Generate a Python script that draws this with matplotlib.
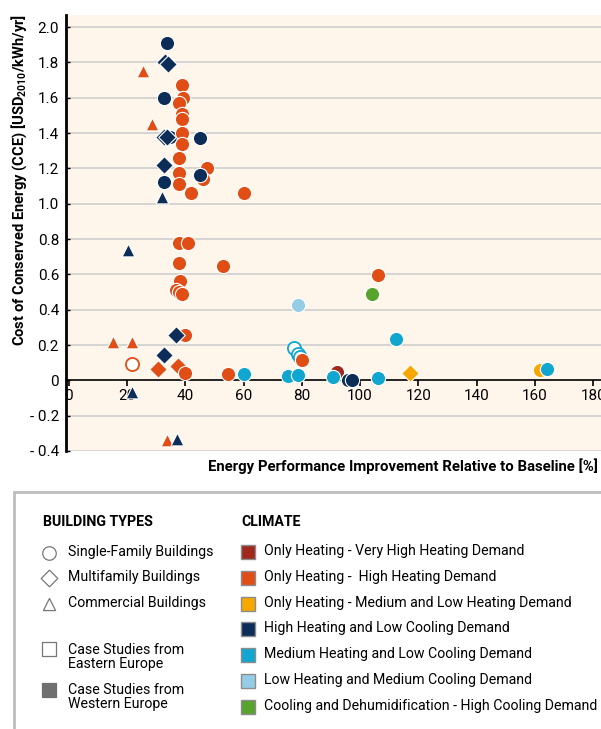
import matplotlib
matplotlib.use('Agg')
import matplotlib.pyplot as plt
from matplotlib.patches import Rectangle

# Fonts: Roboto for all labels, DejaVu as fallback
plt.rcParams['font.family'] = ['Roboto', 'DejaVu Sans']
plt.rcParams['mathtext.fontset'] = 'custom'
plt.rcParams['mathtext.rm'] = 'Roboto'
plt.rcParams['mathtext.bf'] = 'Roboto:bold'

# Climate zones and their colours
climate_names = [
    'Only Heating - Very High Heating Demand',
    'Only Heating -  High Heating Demand',
    'Only Heating - Medium and Low Heating Demand',
    'High Heating and Low Cooling Demand',
    'Medium Heating and Low Cooling Demand',
    'Low Heating and Medium Cooling Demand',
    'Cooling and Dehumidification - High Cooling Demand',
]
climate_colors = ['#a0281c', '#e04e16', '#f6a800', '#0c2d57', '#10a6cf', '#95cde6', '#58a32b']

building_names = ['Single-Family Buildings', 'Multifamily Buildings', 'Commercial Buildings']
building_markers = ['o', 'D', '^']

# Case studies: improvement [%], CCE [USD2010/kWh/yr], building type, climate index, eastern europe
improvement = [
    # high heating / low cooling
    33.6, 33.0, 34.2, 32.8, 34.8, 32.8, 45.1,
    # only heating - high heating demand (upper cluster)
    39.0, 39.3, 37.9, 39.0, 39.0, 38.8, 39.0, 37.9, 47.4, 46.0, 37.9, 37.9, 42.0, 60.3,
    25.6, 28.7,
    33.6, 32.8, 45.1, 32.8, 31.9,
    # middle cluster
    20.5, 37.9, 41.0, 37.9, 52.8, 38.2, 36.8, 38.0, 38.8,
    39.9, 36.7, 15.3, 21.6, 32.8, 21.8, 30.8, 37.6, 39.9, 54.6, 60.3,
    21.6, 33.6, 37.0,
    # right hand side
    78.8, 106.1, 104.2, 112.3, 77.4, 78.6, 79.4, 80.2,
    75.4, 78.8, 92.2, 90.8, 96.0, 97.1, 106.1, 117.3, 161.8, 164.1,
]
cce = [
    1.91, 1.80, 1.79, 1.60, 1.38, 1.38, 1.37,
    1.67, 1.60, 1.57, 1.505, 1.48, 1.40, 1.335, 1.256, 1.20, 1.14, 1.175, 1.11, 1.058, 1.058,
    1.75, 1.45,
    1.38, 1.218, 1.16, 1.12, 1.04,
    0.737, 0.775, 0.778, 0.667, 0.648, 0.561, 0.51, 0.50, 0.487,
    0.255, 0.255, 0.217, 0.217, 0.142, 0.09, 0.066, 0.081, 0.043, 0.034, 0.034,
    -0.066, -0.34, -0.33,
    0.425, 0.599, 0.487, 0.232, 0.183, 0.151, 0.132, 0.117,
    0.024, 0.032, 0.047, 0.019, 0.0, 0.0, 0.015, 0.041, 0.057, 0.062,
]
building = [
    0, 1, 1, 0, 0, 1, 0,
    0, 0, 0, 0, 0, 0, 0, 0, 0, 0, 0, 0, 0, 0,
    2, 2,
    1, 1, 0, 0, 2,
    2, 0, 0, 0, 0, 0, 0, 0, 0,
    0, 1, 2, 2, 1, 0, 1, 1, 0, 0, 0,
    2, 2, 2,
    0, 0, 0, 0, 0, 0, 0, 0,
    0, 0, 0, 0, 0, 0, 0, 1, 0, 0,
]
climate = [
    3, 3, 3, 3, 3, 3, 3,
    1, 1, 1, 1, 1, 1, 1, 1, 1, 1, 1, 1, 1, 1,
    1, 1,
    3, 3, 3, 3, 3,
    3, 1, 1, 1, 1, 1, 1, 1, 1,
    1, 3, 1, 1, 3, 1, 1, 1, 1, 1, 4,
    3, 1, 3,
    5, 1, 6, 4, 4, 4, 4, 1,
    4, 4, 0, 4, 3, 3, 4, 2, 2, 4,
]
eastern = [
    0, 0, 0, 0, 0, 0, 0,
    0, 0, 0, 0, 0, 0, 0, 0, 0, 0, 0, 0, 0, 0,
    0, 0,
    0, 0, 0, 0, 0,
    0, 0, 0, 0, 0, 0, 0, 0, 0,
    0, 0, 0, 0, 0, 1, 0, 0, 0, 0, 0,
    0, 0, 0,
    0, 0, 0, 0, 1, 1, 1, 0,
    0, 0, 0, 0, 0, 0, 0, 0, 0, 0,
]

y_ticks = [-0.4, -0.2, 0, 0.2, 0.4, 0.6, 0.8, 1.0, 1.2, 1.4, 1.6, 1.8, 2.0]
y_tick_labels = ['- 0.4', '- 0.2', '0', '0.2', '0.4', '0.6', '0.8', '1.0', '1.2', '1.4', '1.6', '1.8', '2.0']
x_ticks = [0, 20, 40, 60, 80, 100, 120, 140, 160, 180]

fig = plt.figure(figsize=(6.01, 7.29), dpi=100)
ax = fig.add_axes([66 / 601, (729 - 451) / 729, 535 / 601, 436 / 729])
ax.set_facecolor('#fff6eb')
ax.set_xlim(-0.94, 182.7)
ax.set_ylim(-0.40, 2.068)

# horizontal guide lines
for yt in y_ticks:
    if yt != 0:
        ax.axhline(yt, color='#d2d2d2', lw=1.3, zorder=1)

sizes = {'o': 105, 'D': 80, '^': 85}
for i in range(len(improvement)):
    m = building_markers[building[i]]
    col = climate_colors[climate[i]]
    if eastern[i]:
        ax.scatter(improvement[i], cce[i], marker=m, s=sizes[m] * 0.85, facecolor='white',
                   edgecolor=col, linewidth=1.3, zorder=3 + i * 0.01)
    else:
        ax.scatter(improvement[i], cce[i], marker=m, s=sizes[m], facecolor=col,
                   edgecolor='white', linewidth=0.8, zorder=3 + i * 0.01)

for side in ['top', 'right']:
    ax.spines[side].set_visible(False)
ax.spines['left'].set_linewidth(2.0)
ax.spines['bottom'].set_position(('data', 0))
ax.spines['bottom'].set_linewidth(1.2)
ax.spines['bottom'].set_zorder(2)

ax.set_yticks(y_ticks)
ax.set_yticklabels(y_tick_labels)
ax.set_xticks(x_ticks)
ax.set_xticklabels([str(v) for v in x_ticks])
ax.tick_params(axis='y', direction='in', length=3, width=1, pad=5, labelsize=11)
ax.tick_params(axis='x', direction='out', length=4, width=1.2, pad=2, labelsize=11)

fig.text(598 / 601, 1 - 466 / 729, 'Energy Performance Improvement Relative to Baseline [%]',
         ha='right', va='center', fontsize=10.7, fontweight='bold')
fig.text(19 / 601, 1 - 180 / 729, r'Cost of Conserved Energy (CCE) [USD$_{\mathbf{2010}}$/kWh/yr]',
         ha='center', va='center', rotation=90, fontsize=10.6, fontweight='bold')

# Legend panel, laid out in pixel units
lg = fig.add_axes([14 / 601, -0.02, 1.0, (729 - 492) / 729 + 0.02])
lg.set_xlim(14, 615)
lg.set_ylim(729 + 0.02 * 729, 492)
lg.set_xticks([])
lg.set_yticks([])
for side in lg.spines.values():
    side.set_color('#bdbdbd')
    side.set_linewidth(2)

fs = 10.2
lg.text(43, 522, 'BUILDING TYPES', fontsize=fs, fontweight='bold', va='center')
leg_rows = [553, 578, 604]
for k, name in enumerate(building_names):
    m = building_markers[k]
    lg.scatter(49, leg_rows[k], marker=m, s=sizes[m] * 0.9, facecolor='white',
               edgecolor='#777777', linewidth=0.9)
    lg.text(68, leg_rows[k] - 1, name, fontsize=fs, va='center')

lg.scatter(49, 649, marker='s', s=90, facecolor='white', edgecolor='#777777', linewidth=0.9)
lg.text(68, 657, 'Case Studies from\nEastern Europe', fontsize=fs, va='center', linespacing=1.05)
lg.scatter(49, 690, marker='s', s=90, facecolor='#6f6f6f', edgecolor='#6f6f6f', linewidth=0.9)
lg.text(68, 697, 'Case Studies from\nWestern Europe', fontsize=fs, va='center', linespacing=1.05)

lg.text(241, 522, 'CLIMATE', fontsize=fs, fontweight='bold', va='center')
for k, name in enumerate(climate_names):
    yy = 552 + k * 25.8
    lg.add_patch(Rectangle((241, yy - 7), 14, 14, facecolor=climate_colors[k],
                           edgecolor='#8c8c8c', linewidth=1))
    lg.text(264, yy - 1, name, fontsize=fs, va='center')

fig.savefig('out.png', dpi=100)
